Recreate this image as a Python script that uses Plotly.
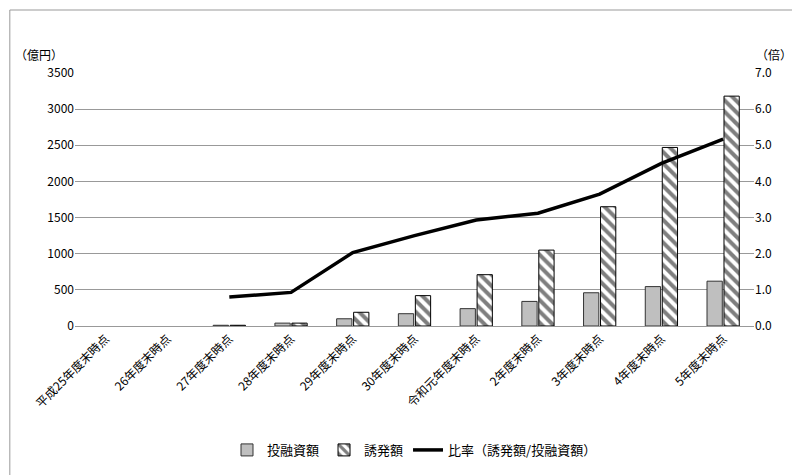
import plotly.graph_objects as go

categories = ["平成25年度末時点","26年度末時点","27年度末時点","28年度末時点","29年度末時点","30年度末時点",
              "令和元年度末時点","2年度末時点","3年度末時点","4年度末時点","5年度末時点"]
investment = [None, None, 10, 40, 100, 170, 240, 340, 460, 545, 620]
induced = [None, None, 10, 40, 190, 420, 710, 1050, 1650, 2470, 3180]
ratio = [None, None, 0.8, 0.93, 2.03, 2.5, 2.93, 3.12, 3.65, 4.5, 5.17]

font = "Noto Sans CJK JP"
fig = go.Figure()
fig.add_bar(x=categories, y=investment, name="投融資額", marker=dict(color="#bfbfbf", line=dict(color="#333", width=1)))
fig.add_bar(x=categories, y=induced, name="誘発額",
            marker=dict(color="white", line=dict(color="#000", width=1),
                        pattern=dict(shape="\\", fgcolor="black", bgcolor="white", size=8, solidity=0.5)))
fig.add_scatter(x=categories, y=ratio, name="比率（誘発額/投融資額）", yaxis="y2", mode="lines",
                line=dict(color="black", width=3.5))
fig.update_layout(
    width=800, height=475, paper_bgcolor="white", plot_bgcolor="white",
    font=dict(family=font, size=12, color="#000"),
    margin=dict(l=67, r=54, t=65, b=157, autoexpand=False),
    bargap=0.45, bargroupgap=0.1,
    xaxis=dict(tickangle=-45, showline=True, linecolor="#999", tickfont=dict(size=12), automargin=False),
    yaxis=dict(range=[0, 3500], dtick=500, gridcolor="#999", showline=False, zeroline=False, tickfont=dict(size=12), automargin=False),
    yaxis2=dict(range=[0, 7], dtick=1, tickformat=".1f", overlaying="y", side="right", showgrid=False, tickfont=dict(size=12), automargin=False),
    legend=dict(orientation="h", x=0.5, xanchor="center", y=-0.49, yanchor="middle", font=dict(size=13)),
    annotations=[
        dict(text="（億円）", x=0, xref="paper", xanchor="right", y=1.03, yref="paper", yanchor="bottom", showarrow=False, xshift=-10),
        dict(text="（倍）", x=1, xref="paper", xanchor="left", y=1.03, yref="paper", yanchor="bottom", showarrow=False),
    ],
    shapes=[dict(type="rect", xref="paper", yref="paper", x0=-0.096, x1=1.075, y0=-0.609, y1=1.249,
                 line=dict(color="#999", width=1))],
)
fig.write_html("out.html")
